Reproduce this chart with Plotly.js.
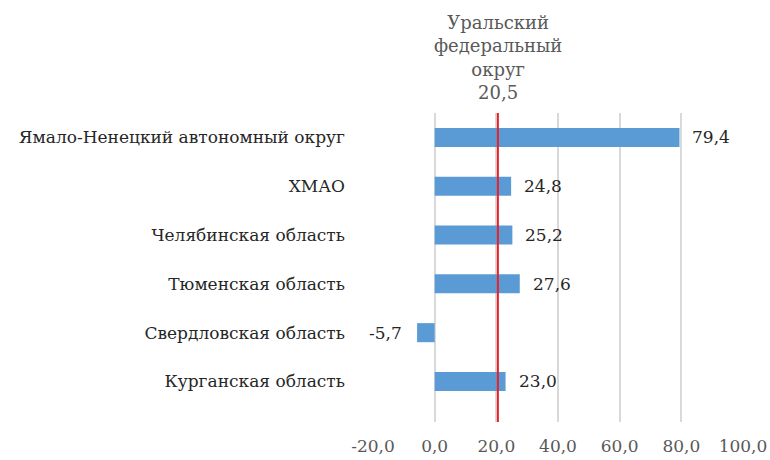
<!DOCTYPE html>
<html>
<head>
<meta charset="utf-8">
<script src="https://cdn.plot.ly/plotly-3.0.1.min.js"></script>
<style>
  html, body { margin: 0; padding: 0; background: #fff; }
  #plot { width: 770px; height: 460px; }
</style>
</head>
<body>
<div id="plot"></div>
<script>
// bottom to top, as plotly draws categories
const regions = ['Курганская область', 'Свердловская область', 'Тюменская область',
  'Челябинская область', 'ХМАО', 'Ямало-Ненецкий автономный округ']
const values = [23.0, -5.7, 27.6, 25.2, 24.8, 79.4]
const districtName = 'Уральский<br>федеральный<br>округ'
const districtValue = 20.5
const xTicks = [-20, 0, 20, 40, 60, 80, 100]

const fmt = (v) => v.toFixed(1).replace('.', ',')
const serif = 'DejaVu Serif, serif'

let labels = values.map((v, i) => {
  return {
    x: v, y: regions[i], xref: 'x', yref: 'y',
    text: fmt(v), showarrow: false,
    xanchor: v < 0 ? 'right' : 'left',
    xshift: v < 0 ? -13 : 11,
    font: { family: serif, size: 17, color: '#262626' }
  }
})

labels.push({
  x: districtValue, y: 1, xref: 'x', yref: 'paper', yshift: 8,
  yanchor: 'bottom', showarrow: false,
  text: districtName + '<br>' + fmt(districtValue),
  font: { family: serif, size: 18, color: '#595959' }
})

let data = [{
  type: 'bar',
  orientation: 'h',
  x: values,
  y: regions,
  marker: { color: '#5b9bd5' },
  hoverinfo: 'x+y'
}]

Plotly.newPlot('plot', data, {
  width: 770,
  height: 460,
  margin: { l: 373, r: 27, t: 113, b: 38 },
  paper_bgcolor: '#fff',
  plot_bgcolor: '#fff',
  bargap: 0.61,
  showlegend: false,
  font: { family: serif, size: 17, color: '#262626' },
  xaxis: {
    range: [-20, 100],
    tickvals: xTicks,
    ticktext: xTicks.map(fmt),
    gridcolor: '#d9d9d9',
    gridwidth: 1.5,
    zeroline: true,
    zerolinecolor: '#d9d9d9',
    zerolinewidth: 1.5,
    showline: false,
    ticks: '',
    ticklabelstandoff: 12,
    tickfont: { family: serif, size: 17, color: '#595959' }
  },
  yaxis: {
    type: 'category',
    range: [-0.83, 5.5],
    showgrid: false,
    zeroline: false,
    showline: false,
    ticks: '',
    ticklabelstandoff: 27,
    tickfont: { family: serif, size: 17, color: '#262626' }
  },
  shapes: [{
    type: 'line', xref: 'x', yref: 'paper',
    x0: districtValue, x1: districtValue, y0: 0, y1: 1,
    line: { color: '#e8202a', width: 2 }
  }],
  annotations: labels
}, {
  displayModeBar: false
});
</script>
</body>
</html>
